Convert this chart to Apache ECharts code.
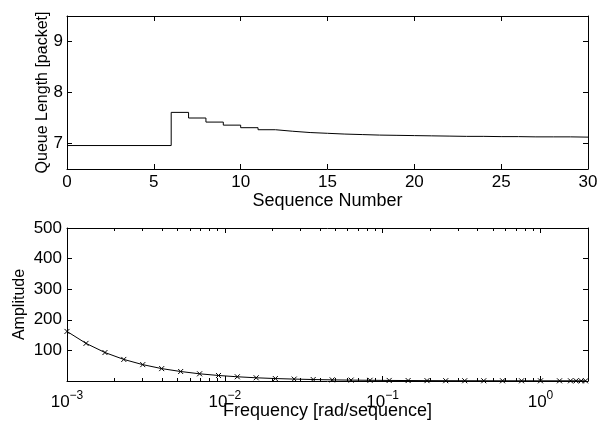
<!DOCTYPE html>
<html>
<head>
<meta charset="utf-8">
<script src="https://cdn.jsdelivr.net/npm/echarts@6/dist/echarts.min.js"></script>
<style>
  html, body { margin: 0; padding: 0; background: #fff; }
  #chart { width: 608px; height: 432px; }
</style>
</head>
<body>
<div id="chart"></div>
<script>
// Top panel: queue length step response
var seqNumbers = [0, 6, 7, 8, 9, 10, 11, 12, 13, 14, 15, 16, 17, 18, 19, 20, 21, 22, 23, 24, 25, 26, 27, 28, 29, 30];
var queueLength = [6.96, 7.61, 7.50, 7.42, 7.36, 7.31, 7.27, 7.24, 7.215, 7.20, 7.185, 7.175, 7.165, 7.16, 7.155,
                   7.15, 7.145, 7.14, 7.14, 7.135, 7.135, 7.13, 7.13, 7.13, 7.125, 7.125];
var queueTicks = [7, 8, 9];

// Bottom panel: amplitude spectrum
var frequency = [0.001, 0.00132, 0.00174, 0.00229, 0.00302, 0.00398, 0.00525, 0.00692, 0.00912, 0.0120,
                 0.0158, 0.0209, 0.0275, 0.0363, 0.0479, 0.0631, 0.0832, 0.110, 0.145, 0.191,
                 0.251, 0.331, 0.437, 0.575, 0.759, 1.0, 1.32, 1.55, 1.68, 1.81, 1.93];
var amplitude = [162, 123, 93, 70.5, 53.5, 40.5, 31, 23.5, 18, 13.8,
                 10.5, 8, 6.2, 4.8, 3.7, 2.9, 2.3, 1.8, 1.5, 1.2,
                 1.0, 0.85, 0.75, 0.68, 0.63, 0.6, 0.58, 0.57, 0.57, 0.56, 0.56];
var freqMajor = [0.001, 0.01, 0.1, 1];
var freqMinor = [0.002, 0.003, 0.004, 0.005, 0.006, 0.007, 0.008, 0.009,
                 0.02, 0.03, 0.04, 0.05, 0.06, 0.07, 0.08, 0.09,
                 0.2, 0.3, 0.4, 0.5, 0.6, 0.7, 0.8, 0.9];

var FONT = "'Liberation Sans', Arial, sans-serif";
var FS = 17;      // tick labels
var FS_X = 18;    // x axis names
var FS_Y = 16;    // y axis names (rotated)
var line = { show: true, onZero: false, lineStyle: { color: '#000', width: 1 } };
var noLine = { show: false, onZero: false };

function tick(len, vals) {
    var t = { show: true, inside: true, length: len, lineStyle: { color: '#000', width: 1 } };
    if (vals) t.customValues = vals;
    return t;
}
function noLabel() { return { show: false }; }

function supLabel(value) {
    var e = Math.round(Math.log10(value));
    return '{b|10}{s|' + (e < 0 ? '\u2212' + (-e) : e) + '}';
}

var chart = echarts.init(document.getElementById('chart'), null, { renderer: 'canvas' });

chart.setOption({
    backgroundColor: '#fff',
    animation: false,
    textStyle: { fontFamily: FONT, color: '#000' },
    grid: [
        { left: 67, right: 20, top: 16, height: 153 },
        { left: 67, right: 20, top: 228, height: 153 }
    ],
    xAxis: [
        {
            type: 'value', gridIndex: 0, position: 'bottom', min: 0, max: 30, interval: 5,
            axisLine: line, axisTick: tick(5), splitLine: { show: false },
            axisLabel: { color: '#000', fontSize: FS, fontFamily: FONT, margin: 5 },
            name: 'Sequence Number', nameLocation: 'middle', nameGap: 20,
            nameTextStyle: { color: '#000', fontSize: FS_X, fontFamily: FONT }
        },
        {
            type: 'value', gridIndex: 0, position: 'top', min: 0, max: 30, interval: 5,
            axisLine: line, axisTick: tick(5), axisLabel: noLabel(), splitLine: { show: false }
        },
        {
            type: 'log', logBase: 10, gridIndex: 1, position: 'bottom', min: 0.001, max: 2,
            axisLine: line, axisTick: tick(5, freqMajor), splitLine: { show: false },
            axisLabel: {
                customValues: freqMajor, formatter: supLabel, margin: 4, color: '#000',
                rich: {
                    b: { fontSize: FS, fontFamily: FONT, color: '#000', lineHeight: 26, verticalAlign: 'bottom' },
                    s: { fontSize: 12, fontFamily: FONT, color: '#000', lineHeight: 12, verticalAlign: 'top',
                         padding: [5, 0, 0, 0] }
                }
            },
            name: 'Frequency [rad/sequence]', nameLocation: 'middle', nameGap: 21, nameMoveOverlap: false,
            nameTextStyle: { color: '#000', fontSize: FS_X, fontFamily: FONT }
        },
        {
            type: 'log', logBase: 10, gridIndex: 1, position: 'top', min: 0.001, max: 2,
            axisLine: line, axisTick: tick(5, freqMajor), axisLabel: noLabel(), splitLine: { show: false }
        },
        {
            type: 'log', logBase: 10, gridIndex: 1, position: 'bottom', min: 0.001, max: 2,
            axisLine: noLine, axisTick: tick(3, freqMinor), axisLabel: noLabel(), splitLine: { show: false }
        },
        {
            type: 'log', logBase: 10, gridIndex: 1, position: 'top', min: 0.001, max: 2,
            axisLine: noLine, axisTick: tick(3, freqMinor), axisLabel: noLabel(), splitLine: { show: false }
        }
    ],
    yAxis: [
        {
            type: 'value', gridIndex: 0, position: 'left', min: 6.5, max: 9.5,
            axisLine: line, axisTick: tick(5, queueTicks), splitLine: { show: false },
            axisLabel: { customValues: queueTicks, color: '#000', fontSize: FS, fontFamily: FONT, margin: 4 },
            name: 'Queue Length [packet]', nameLocation: 'middle', nameRotate: 90, nameGap: 16,
            nameMoveOverlap: false,
            nameTextStyle: { color: '#000', fontSize: FS_Y, fontFamily: FONT }
        },
        {
            type: 'value', gridIndex: 0, position: 'right', min: 6.5, max: 9.5,
            axisLine: line, axisTick: tick(5, queueTicks), axisLabel: noLabel(), splitLine: { show: false }
        },
        {
            type: 'value', gridIndex: 1, position: 'left', min: 0, max: 500, interval: 100,
            axisLine: line, axisTick: tick(5), splitLine: { show: false },
            axisLabel: { showMinLabel: false, color: '#000', fontSize: FS, fontFamily: FONT, margin: 5 },
            name: 'Amplitude', nameLocation: 'middle', nameRotate: 90, nameGap: 39,
            nameMoveOverlap: false,
            nameTextStyle: { color: '#000', fontSize: FS_Y, fontFamily: FONT }
        },
        {
            type: 'value', gridIndex: 1, position: 'right', min: 0, max: 500, interval: 100,
            axisLine: line, axisTick: tick(5), axisLabel: noLabel(), splitLine: { show: false }
        }
    ],
    series: [
        {
            type: 'line', xAxisIndex: 0, yAxisIndex: 0, step: 'end', showSymbol: false,
            lineStyle: { color: '#000', width: 1 },
            data: seqNumbers.map(function (x, i) { return [x, queueLength[i]]; })
        },
        {
            type: 'line', xAxisIndex: 2, yAxisIndex: 2,
            symbol: 'path://M0,0L10,10M10,0L0,10', symbolSize: 5,
            itemStyle: { color: 'transparent', borderColor: '#000', borderWidth: 1 },
            lineStyle: { color: '#000', width: 1 },
            data: frequency.map(function (x, i) { return [x, amplitude[i]]; })
        }
    ]
});

window.addEventListener('resize', function () {
    if (chart) chart.resize();
});
</script>
</body>
</html>
